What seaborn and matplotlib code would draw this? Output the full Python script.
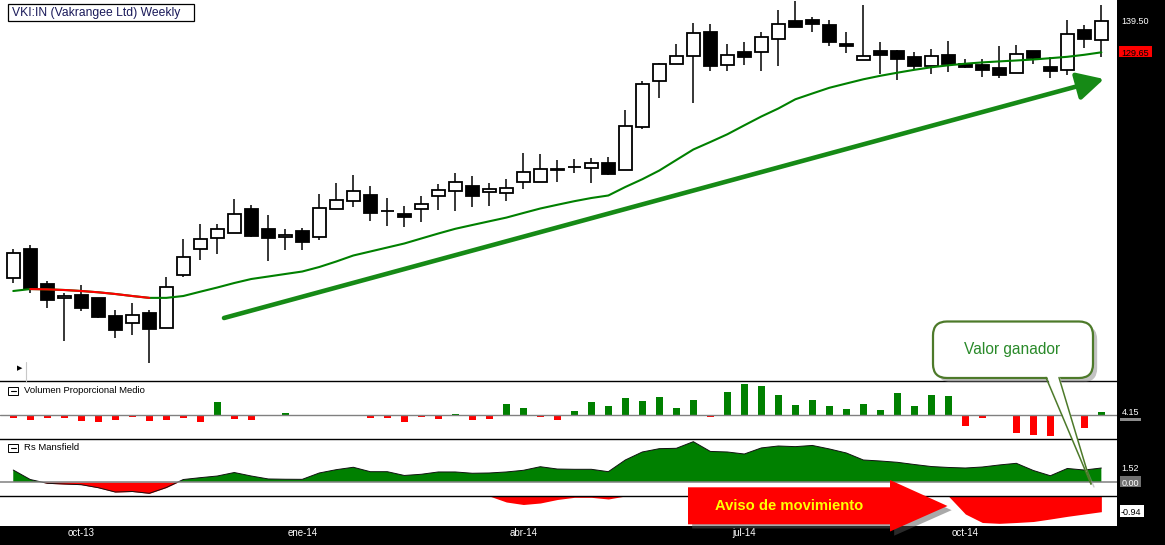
import numpy as np
import pandas as pd
import matplotlib
matplotlib.use("Agg")
import matplotlib.pyplot as plt
import seaborn as sns
from matplotlib.patches import Rectangle, FancyBboxPatch, Polygon, FancyArrowPatch
import matplotlib.patheffects as pe

sns.set_style("white")
plt.rcParams["font.family"] = ["Liberation Sans", "DejaVu Sans"]

# ---------------- data (weekly candles, VKI:IN) ----------------
opens = [57.9, 67.1, 56.0, 51.6, 52.6, 51.7, 45.9, 43.6, 46.9, 42.0,
         58.9, 67.1, 70.6, 72.2, 79.8, 73.5, 70.9, 72.8, 70.9, 79.8,
         82.4, 84.3, 79.2, 78.2, 79.8, 83.9, 85.5, 87.1, 85.2, 84.9,
         88.4, 88.4, 92.4, 93.1, 92.8, 94.4, 92.2, 105.9, 120.5, 125.9,
         128.4, 136.0, 125.5, 129.7, 129.9, 133.8, 139.5, 139.8, 138.2, 132.3,
         127.1, 130.1, 130.0, 128.2, 125.4, 128.7, 126.0, 125.5, 124.7, 123.0,
         130.0, 124.9, 124.1, 136.6, 133.7]
highs = [67.1, 68.5, 57.1, 53.2, 55.8, 51.8, 47.9, 50.1, 47.9, 58.3,
         70.4, 75.2, 75.2, 83.1, 81.2, 78.0, 73.6, 73.8, 84.7, 88.2,
         90.7, 87.2, 83.5, 80.9, 84.0, 87.9, 91.3, 90.3, 88.1, 89.3,
         97.7, 97.4, 95.4, 95.7, 96.0, 96.4, 111.3, 120.6, 126.3, 132.3,
         139.0, 138.6, 132.3, 132.8, 136.0, 143.0, 145.9, 140.8, 139.8, 136.0,
         144.7, 132.9, 130.4, 129.7, 130.7, 133.3, 127.4, 127.5, 131.7, 132.0,
         130.0, 128.1, 139.9, 138.3, 144.7]
lows = [56.5, 53.3, 48.6, 38.1, 47.6, 45.4, 39.1, 40.0, 31.1, 42.0,
        58.4, 63.8, 65.7, 72.2, 70.9, 63.5, 67.0, 67.0, 70.2, 79.8,
        80.6, 76.2, 74.5, 74.3, 75.9, 79.7, 79.4, 80.6, 81.0, 82.6,
        86.4, 88.4, 88.4, 91.4, 88.3, 90.8, 92.2, 105.4, 115.3, 125.9,
        113.7, 123.8, 123.8, 125.7, 123.8, 125.4, 137.7, 136.2, 131.8, 129.3,
        127.1, 122.8, 120.8, 124.1, 122.7, 123.5, 124.6, 121.9, 121.6, 123.0,
        125.9, 121.6, 122.6, 131.1, 128.3]
closes = [65.9, 54.5, 51.1, 52.3, 48.6, 45.7, 41.6, 46.2, 41.9, 55.1,
          64.6, 70.3, 73.5, 78.2, 71.4, 70.6, 71.6, 69.5, 80.1, 82.7,
          85.5, 78.7, 79.3, 77.5, 81.4, 85.9, 88.4, 83.9, 86.2, 86.5,
          91.6, 92.5, 92.5, 93.2, 94.4, 91.1, 106.2, 119.5, 125.9, 128.4,
          135.7, 125.4, 128.7, 128.1, 134.4, 138.6, 137.8, 138.6, 133.0, 131.6,
          128.4, 128.9, 127.6, 125.4, 128.4, 125.9, 125.1, 124.1, 122.6, 129.1,
          127.9, 123.8, 135.4, 133.8, 139.5]
moving_avg = [53.88, 54.5, 54.4, 54.2, 53.88, 53.47, 52.93, 52.29, 51.7, 51.7,
              52.29, 53.66, 54.99, 56.42, 57.69, 58.48, 59.28, 60.07, 61.5, 63.25,
              65.15, 66.42, 67.69, 68.96, 70.55, 72.13, 73.63, 74.83, 76.01, 77.18,
              78.64, 80.07, 81.25, 82.39, 83.4, 84.2, 86.9, 89.37, 92.13, 95.47,
              98.8, 101.18, 103.63, 106.48, 109.28, 111.82, 114.74, 116.58, 118.39, 119.75,
              121.09, 122.2, 123.18, 124.1, 124.9, 125.53, 126.04, 126.45, 126.77, 127.06,
              127.37, 127.79, 128.23, 128.87, 129.65]
volume_prop = [-2.7, -4.7, -2.7, -2.7, -5.7, -6.7, -4.7, -1.7, -5.7, -4.7,
               -2.7, -6.7, 13, -3.7, -4.7, 0, 2, 0, 0, 0,
               0, -2.7, -2.7, -6.7, -1.7, -3.7, 1.3, -4.7, -3.7, 11,
               7, -1.7, -4.7, 4, 13, 9, 17, 14, 18, 7,
               15, -1.7, 23, 31, 29, 20, 10, 15, 9, 6,
               11, 5, 22, 9, 20, 19, -10.7, -2.7, 0, -17.7,
               -19.7, -20.7, 0, -12.7, 3]
rs_mansfield = [1.30, 0.27, -0.14, -0.22, -0.29, -0.62, -1.09, -1.03, -1.23, -0.60,
                0.27, 0.47, 0.65, 1.03, 0.65, 0.33, 0.30, 0.29, 0.98, 1.34,
                1.60, 1.12, 1.12, 0.71, 0.84, 1.09, 1.09, 0.95, 0.98, 1.09,
                1.27, 1.66, 1.41, 1.38, 1.38, 1.12, 2.39, 3.26, 3.62, 3.66,
                4.38, 3.32, 3.26, 3.04, 3.70, 3.91, 3.84, 3.97, 3.59, 3.15,
                2.39, 2.28, 2.14, 1.90, 1.68, 1.58, 1.52, 1.63, 1.85, 2.03,
                1.25, 0.68, 1.47, 1.30, 1.52]
rs_lower = [0, 0, 0, 0, 0, 0, 0, 0, 0, 0,
            0, 0, 0, 0, 0, 0, 0, 0, 0, 0,
            0, 0, 0, 0, 0, 0, 0, 0, 0, -0.36,
            -0.51, -0.42, -0.21, -0.08, -0.08, -0.18, 0, 0, 0, 0,
            0, 0, 0, 0, 0, 0, 0, 0, 0, 0,
            0, 0, 0, 0, 0, 0, -1.08, -1.59, -1.64, -1.59,
            -1.53, -1.38, -1.22, -1.08, -0.94]
date_pos = [4, 17, 30, 43, 56]
date_labels = ["oct-13", "ene-14", "abr-14", "jul-14", "oct-14"]

# ---------------- figure layout (pixel based) ----------------
W, H = 1165, 545
fig = plt.figure(figsize=(W / 100, H / 100), dpi=100, facecolor="black")


def rect(x0, y0, x1, y1):
    return [x0 / W, 1 - y1 / H, (x1 - x0) / W, (y1 - y0) / H]


ax_m = fig.add_axes(rect(0, 0, 1117, 381))
ax_v = fig.add_axes(rect(0, 381, 1117, 439))
ax_r = fig.add_axes(rect(0, 439, 1117, 496))
ax_s = fig.add_axes(rect(0, 496, 1117, 526))

idx = np.arange(len(opens))
o = np.array(opens); c = np.array(closes)
hi = np.array(highs); lo = np.array(lows)
ma = np.array(moving_avg)
vol = np.array(volume_prop, dtype=float)
rs = np.array(rs_mansfield)
rsl = np.array(rs_lower, dtype=float)

XLIM = (-0.78, 64.92)
for a in (ax_m, ax_v, ax_r, ax_s):
    a.set_facecolor("white")
    a.set_xlim(*XLIM)
    a.set_xticks([]); a.set_yticks([])
    for s in a.spines.values():
        s.set_visible(False)
for a in (ax_v, ax_r, ax_s):
    a.spines["top"].set_visible(True)
    a.spines["top"].set_color("black")
    a.spines["top"].set_linewidth(1.0)

# ---- main candlestick panel ----
up = c >= o
ax_m.vlines(idx, lo, hi, color="black", lw=1.1, zorder=2)
ax_m.bar(idx, np.abs(c - o), bottom=np.minimum(o, c), width=0.74,
         color=np.where(up, "white", "black"), edgecolor="black",
         linewidth=1.3, zorder=3)
ma_df = pd.DataFrame({"i": idx, "ma": ma})
sns.lineplot(data=ma_df, x="i", y="ma", color="#008000", lw=1.5, ax=ax_m,
             zorder=4, sort=False)
falling = np.r_[np.diff(ma) < 0, False]
red_pts = falling | np.r_[False, falling[:-1]]
sns.lineplot(data=ma_df[red_pts], x="i", y="ma", color="#ff0000", lw=1.5,
             ax=ax_m, zorder=5, sort=False)
ax_m.set_ylim(25.31, 146.26)
ax_m.set_xlabel(""); ax_m.set_ylabel("")
ax_m.set_xticks([]); ax_m.set_yticks([])

# ---- volume panel ----
ax_v.bar(idx, vol, width=0.4, color=np.where(vol >= 0, "#008000", "#ff0000"),
         linewidth=0, zorder=2)
ax_v.axhline(0, color="#808080", lw=1.0, zorder=3)
ax_v.set_ylim(-24, 34)

# ---- RS Mansfield panel ----
ax_r.fill_between(idx, 0, rs, where=rs >= 0, interpolate=True,
                  color="#008000", lw=0, zorder=2)
ax_r.fill_between(idx, 0, rs, where=rs <= 0, interpolate=True,
                  color="#ff0000", lw=0, zorder=2)
ax_r.plot(idx, rs, color="#111111", lw=0.7, zorder=3)
ax_r.axhline(0, color="#808080", lw=1.1, zorder=4)
ax_r.set_ylim(-1.52, 4.67)

# ---- lower RS area ----
ax_s.fill_between(idx, 0, rsl, color="#ff0000", lw=0, zorder=2)
ax_s.set_ylim(-1.8, 0)
ax_s.set_xticks(date_pos)
ax_s.set_xticklabels(date_labels, color="white", fontsize=7)
ax_s.tick_params(axis="x", length=0, pad=1.5)

# ---------------- overlay for annotations (pixel coords) ----------------
ov = fig.add_axes([0, 0, 1, 1], zorder=10)
ov.set_xlim(0, W); ov.set_ylim(H, 0); ov.axis("off")

# title box
ov.add_patch(Rectangle((8.3, 4), 186, 17.3, facecolor="white", edgecolor="black", lw=0.9))
ov.text(12.5, 16.3, "VKI:IN (Vakrangee Ltd) Weekly", fontsize=8.7, color="#1a1a5a",
        ha="left", va="baseline")

# small marker bottom-left of main panel
ov.text(19.5, 368, "\u25B6", family=["DejaVu Sans"], fontsize=5, ha="center", va="center", color="black")
ov.plot([26, 26], [362, 381], color="#c8c8c8", lw=0.8)

# panel headers
for ytop, label in ((386.7, "Volumen Proporcional Medio"), (443.5, "Rs Mansfield")):
    ov.add_patch(Rectangle((8.4, ytop), 9.5, 8.5, facecolor="white", edgecolor="black", lw=0.7))
    ov.plot([10.6, 15.7], [ytop + 4.25, ytop + 4.25], color="black", lw=0.8)
    ov.text(23.7, ytop + 6.3, label, fontsize=6.8, color="black", ha="left", va="baseline")

# big green trend arrow
ov.add_patch(FancyArrowPatch((224, 318), (1104, 79),
                             arrowstyle="-|>,head_length=1.15,head_width=0.6",
                             mutation_scale=14, lw=3.3, color="#168a16",
                             shrinkA=0, shrinkB=0, zorder=3))

# callout "Valor ganador"
shadow = pe.withSimplePatchShadow(offset=(3, -3), shadow_rgbFace="#7a7a7a", alpha=0.45)
ov.add_patch(FancyBboxPatch((933, 321.5), 160, 56.5,
                            boxstyle="round,pad=0,rounding_size=14",
                            facecolor="white", edgecolor="#4d7a2a", lw=1.6,
                            path_effects=[shadow], zorder=4))
ov.add_patch(Polygon([(1046, 374), (1059, 374), (1091, 484)], closed=True,
                     facecolor="white", edgecolor="none", zorder=5))
ov.plot([1046, 1091], [377.5, 484], color="#4d7a2a", lw=1.1, zorder=6)
ov.plot([1059, 1091], [377.5, 484], color="#4d7a2a", lw=1.1, zorder=6)
ov.plot([1049, 1094], [379, 487], color="#9a9a9a", lw=1.0, alpha=0.5, zorder=4)
ov.text(1012, 349.5, "Valor ganador", fontsize=11.2, color="#2a8a2a",
        ha="center", va="center", zorder=7)

# red arrow "Aviso de movimiento"
red_arrow = [(688, 487.3), (890, 487.3), (890, 480), (947.5, 506),
             (890, 531.5), (890, 524.3), (688, 524.3)]
ov.add_patch(Polygon(red_arrow, closed=True, facecolor="#ff0000", edgecolor="none",
                     path_effects=[pe.withSimplePatchShadow(offset=(3, -3),
                                                            shadow_rgbFace="#555555",
                                                            alpha=0.5)],
                     zorder=4))
ov.text(789, 506, "Aviso de movimiento", fontsize=10.6, fontweight="bold",
        color="#ffff00", ha="center", va="center", zorder=5)

# right-side value labels
ov.text(1121.5, 24, "139.50", fontsize=6.5, color="white", ha="left", va="baseline")
ov.add_patch(Rectangle((1119, 45.7), 32.7, 11.6, facecolor="#ff0000", edgecolor="none"))
ov.text(1121.5, 55.5, "129.65", fontsize=6.5, color="black", ha="left", va="baseline")
ov.text(1121.5, 415, "4.15", fontsize=6.5, color="white", ha="left", va="baseline")
ov.add_patch(Rectangle((1120, 417.7), 21, 3, facecolor="#8c8c8c", edgecolor="none"))
ov.text(1121.5, 471, "1.52", fontsize=6.5, color="white", ha="left", va="baseline")
ov.add_patch(Rectangle((1119.6, 475.7), 21.4, 11.6, facecolor="#707070", edgecolor="none"))
ov.text(1121.5, 485.5, "0.00", fontsize=6.5, color="white", ha="left", va="baseline")
ov.add_patch(Rectangle((1119.6, 505), 24.4, 12.3, facecolor="white", edgecolor="none"))
ov.text(1120.5, 515.3, "-0.94", fontsize=6.5, color="black", ha="left", va="baseline")

fig.savefig("out.png", dpi=100, facecolor="black")
